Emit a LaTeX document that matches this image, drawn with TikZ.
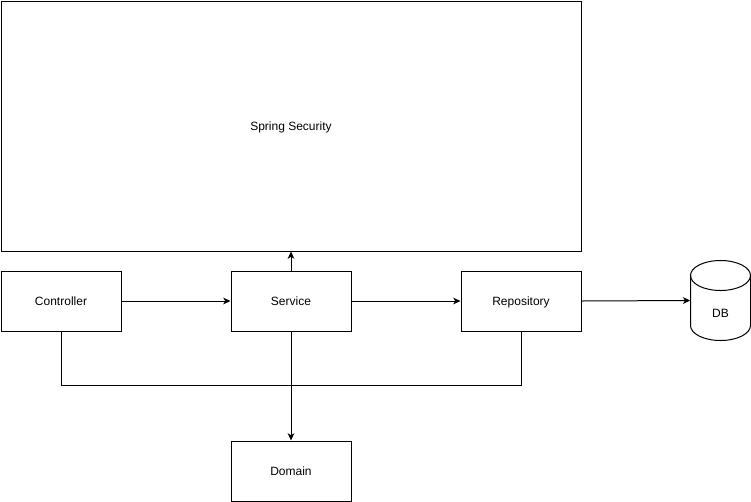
\documentclass[tikz,border=0pt]{standalone}
\usepackage{fontspec}
\setmainfont{Liberation Sans}
\usetikzlibrary{arrows.meta}
\begin{document}
\begin{tikzpicture}[x=0.75pt,y=-0.75pt,
  lbl/.style={font=\fontsize{9pt}{11pt}\selectfont,text height=6.5pt,text depth=0.5pt},
  box/.style={lbl,draw=black,line width=0.75pt,fill=white,minimum width=90pt,minimum height=45pt,inner sep=0pt,anchor=north west},
  conn/.style={draw=black,line width=0.75pt},
  arr/.style={conn,-{Stealth[length=5.5pt,width=5pt,inset=1.6pt]}}]
\useasboundingbox (-0.5,-0.5) rectangle (750.5,500.5);
\node[box,minimum width=435pt,minimum height=187.5pt] (sec) at (0,0) {Spring Security};
\node[box] (ctrl) at (0,270) {Controller};
\node[box] (svc) at (230,270) {Service};
\node[box] (repo) at (460,270) {Repository};
\node[box] (dom) at (230,440) {Domain};
% DB cylinder
\draw[line width=0.75pt,fill=white] (690,275) -- (690,325) arc[start angle=180,end angle=0,x radius=30,y radius=15] -- (750,275) arc[start angle=0,end angle=-180,x radius=30,y radius=15] -- cycle;
\draw[line width=0.75pt] (690,275) arc[start angle=180,end angle=0,x radius=30,y radius=15];
\node[minimum width=45pt,minimum height=60pt,inner sep=0pt] (db) at (720,300) {};
\node[lbl,inner sep=0pt] (dbl) at (720,313) {DB};
\coordinate (mid) at (290,385);
\draw[arr] (ctrl.east) -- (svc.west);
\draw[arr] (svc.east) -- (repo.west);
\draw[arr] (repo.east) -- (db.west);
\draw[arr] (svc.north) -- (sec.south -| svc.north);
\draw[arr] (svc.south) -- (dom.north);
\draw[conn] (ctrl.south) |- (mid) -| (repo.south);
\end{tikzpicture}
\end{document}
